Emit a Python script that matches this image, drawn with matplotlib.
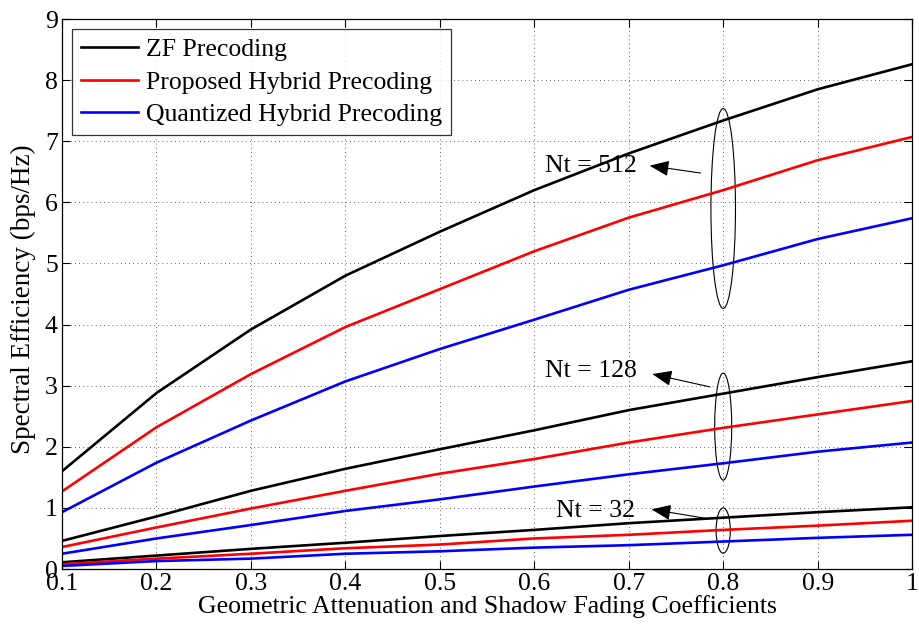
import matplotlib
matplotlib.use("Agg")
import matplotlib.pyplot as plt
from matplotlib.patches import Ellipse

plt.rcParams['font.family'] = ['Liberation Serif', 'DejaVu Serif']
plt.rcParams['mathtext.fontset'] = 'stix'

x = [0.1, 0.2, 0.3, 0.4, 0.5, 0.6, 0.7, 0.8, 0.9, 1.0]

zf_512 = [1.60, 2.88, 3.92, 4.80, 5.52, 6.20, 6.80, 7.34, 7.85, 8.26]
prop_512 = [1.27, 2.32, 3.19, 3.96, 4.58, 5.20, 5.75, 6.20, 6.69, 7.07]
quant_512 = [0.93, 1.74, 2.43, 3.07, 3.60, 4.08, 4.57, 4.97, 5.40, 5.74]

zf_128 = [0.46, 0.86, 1.28, 1.64, 1.96, 2.27, 2.60, 2.87, 3.14, 3.40]
prop_128 = [0.36, 0.68, 0.99, 1.28, 1.56, 1.80, 2.07, 2.31, 2.53, 2.75]
quant_128 = [0.25, 0.50, 0.72, 0.95, 1.14, 1.35, 1.55, 1.73, 1.92, 2.07]

zf_32 = [0.11, 0.22, 0.33, 0.43, 0.54, 0.64, 0.75, 0.84, 0.93, 1.01]
prop_32 = [0.08, 0.17, 0.25, 0.34, 0.40, 0.50, 0.56, 0.64, 0.71, 0.79]
quant_32 = [0.05, 0.13, 0.17, 0.25, 0.29, 0.35, 0.39, 0.45, 0.51, 0.56]

labels = ['ZF Precoding', 'Proposed Hybrid Precoding', 'Quantized Hybrid Precoding']
colors = ['black', 'red', 'blue']

xticks = [0.1, 0.2, 0.3, 0.4, 0.5, 0.6, 0.7, 0.8, 0.9, 1.0]
xticklabels = ['0.1', '0.2', '0.3', '0.4', '0.5', '0.6', '0.7', '0.8', '0.9', '1']
yticks = [0, 1, 2, 3, 4, 5, 6, 7, 8, 9]

groups = [
    ('Nt = 512', [zf_512, prop_512, quant_512]),
    ('Nt = 128', [zf_128, prop_128, quant_128]),
    ('Nt = 32', [zf_32, prop_32, quant_32]),
]

FS = 18.5

fig = plt.figure(figsize=(9.19, 6.30), dpi=100)
ax = fig.add_axes([0.0675, 0.0968, 0.925, 0.873])

for gi, (name, series) in enumerate(groups):
    for si, ys in enumerate(series):
        ax.plot(x, ys, color=colors[si], lw=1.9,
                label=labels[si] if gi == 0 else None)

ax.set_xlim(0.1, 1.0)
ax.set_ylim(0, 9)
ax.set_xticks(xticks)
ax.set_xticklabels(xticklabels)
ax.set_yticks(yticks)
ax.tick_params(direction='in', length=6, width=0.8, top=True, right=True,
               labelsize=FS, pad=3)
ax.grid(True, linestyle=(0, (1, 4)), color='black', lw=0.6, alpha=0.8)
for s in ax.spines.values():
    s.set_linewidth(0.9)

ax.set_xlabel('Geometric Attenuation and Shadow Fading Coefficients', fontsize=FS, labelpad=0)
ax.set_ylabel('Spectral Efficiency (bps/Hz)', fontsize=19.5, labelpad=4)
ax.yaxis.set_label_coords(-0.031, 0.49)

leg = ax.legend(loc='upper left', fontsize=FS, frameon=True, fancybox=False,
                edgecolor='black', handlelength=2.2, borderaxespad=0.4,
                labelspacing=0.36, handletextpad=0.3, borderpad=0.35)
leg.get_frame().set_linewidth(0.9)

# ellipses (center x, center y, width, height)
ell = [(0.8, 5.90, 0.026, 3.27), (0.8, 2.33, 0.018, 1.75), (0.8, 0.63, 0.015, 0.74)]
for cx, cy, w, h in ell:
    ax.add_patch(Ellipse((cx, cy), w, h, fill=False, edgecolor='black', lw=0.8))

# annotations: text position (right edge), arrow head, arrow tail
ann = [('Nt = 512', (0.7085, 6.60), (0.722, 6.60), (0.776, 6.48)),
       ('Nt = 128', (0.7085, 3.24), (0.725, 3.19), (0.786, 2.98)),
       ('Nt = 32', (0.7065, 0.95), (0.724, 0.977), (0.781, 0.83))]
for txt, tpos, head, tail in ann:
    ax.text(tpos[0], tpos[1], txt, fontsize=FS, ha='right', va='center')
    ax.annotate('', xy=head, xytext=tail,
                arrowprops=dict(arrowstyle='-|>,head_length=1.0,head_width=0.4',
                                mutation_scale=12, color='black', lw=0.8,
                                shrinkA=0, shrinkB=0))

fig.savefig('out.png', dpi=100)
